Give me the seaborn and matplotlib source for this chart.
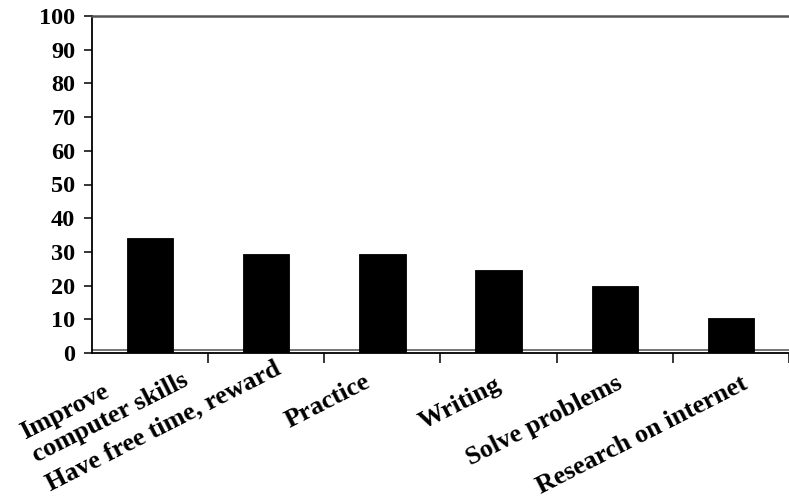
import matplotlib
matplotlib.use("Agg")
import matplotlib.pyplot as plt
import matplotlib.transforms as mtransforms
import seaborn as sns
import pandas as pd

# Survey data: share of respondents (%) per reason
categories = [
    "Improve\ncomputer skills",
    "Have free time, reward",
    "Practice",
    "Writing",
    "Solve problems",
    "Research on internet",
]
percentages = [34.1, 29.5, 29.4, 24.6, 19.9, 10.3]
y_ticks = list(range(0, 101, 10))

# per-label nudge (pixels right / down from the axis line) for the slanted names
label_dx = [38, 16, -11, 4, 9, 18]
label_dy = [29, 20, 33, 36, 35, 35]

sns.set_theme(style="white")
plt.rcParams["font.family"] = ["Liberation Serif", "DejaVu Serif"]
plt.rcParams["font.weight"] = "bold"
plt.rcParams["text.color"] = "black"
plt.rcParams["xtick.color"] = "black"
plt.rcParams["ytick.color"] = "black"
plt.rcParams["xtick.labelcolor"] = "black"
plt.rcParams["ytick.labelcolor"] = "black"

W, H = 789, 503
fig = plt.figure(figsize=(W / 100, H / 100), dpi=100)
ax = fig.add_axes([92 / W, (H - 353) / H, (W - 92) / W, 337 / H])

df = pd.DataFrame({"reason": categories, "pct": percentages})
sns.barplot(
    data=df, x="reason", y="pct", color="black", saturation=1,
    width=0.4, edgecolor="black", linewidth=0.6, ax=ax, zorder=3,
)

# category slot width in pixels is ~117.7, the plot is cut at the right edge
ax.set_xlim(-0.5, -0.5 + (W - 92) / 117.7)
ax.set_ylim(0, 100)
ax.set_xlabel("")
ax.set_ylabel("")

# floor line just above the axis
ax.axhline(0.75, color="#6a6a6a", lw=1.3, zorder=2)

for side in ("left", "bottom"):
    ax.spines[side].set_color("black")
    ax.spines[side].set_linewidth(1.3)
ax.spines["top"].set_color("#555555")
ax.spines["top"].set_linewidth(1.8)
ax.spines["right"].set_visible(False)

ax.set_yticks(y_ticks)
ax.set_yticklabels([str(v) for v in y_ticks], fontsize=17.5, fontweight="bold")
ax.tick_params(axis="y", direction="out", length=6, width=1.1, color="black",
               pad=6, left=True)

ax.set_xticks(range(len(categories)))
ax.set_xticklabels(categories, rotation=27, ha="right", va="baseline",
                   rotation_mode="anchor", fontsize=19, fontweight="bold",
                   multialignment="left", linespacing=1.15)
ax.set_xticks([i + 0.5 for i in range(len(categories))], minor=True)
ax.tick_params(axis="x", which="major", length=0, pad=0)
ax.tick_params(axis="x", which="minor", direction="out", length=7, width=1.1,
               color="black", bottom=True)

for lbl, dx, dy in zip(ax.get_xticklabels(), label_dx, label_dy):
    shift = mtransforms.ScaledTranslation(dx / 100, -dy / 100, fig.dpi_scale_trans)
    lbl.set_transform(lbl.get_transform() + shift)

fig.savefig("out.png", dpi=100)
